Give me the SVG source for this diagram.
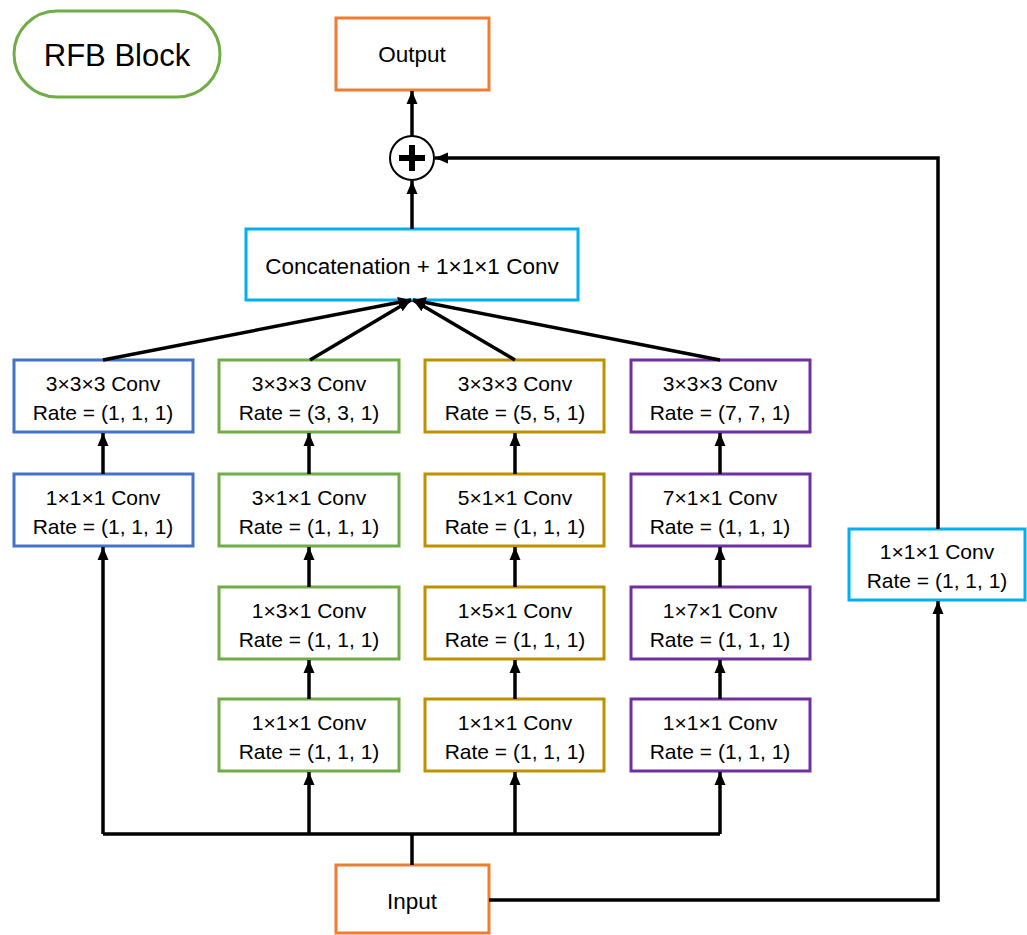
<svg xmlns="http://www.w3.org/2000/svg" width="1027" height="935" viewBox="0 0 1027 935">
<defs>
<marker id="ah" markerUnits="userSpaceOnUse" markerWidth="14" markerHeight="14" viewBox="0 0 14 14" refX="13" refY="7" orient="auto">
<path d="M0,1.5 L13,7 L0,12.5 Z" fill="#000"/>
</marker>
<style>
.box{fill:#fff;stroke-width:3}
.blue{stroke:#4472C4}.green{stroke:#70AD47}.gold{stroke:#BF9000}.purple{stroke:#7030A0}.orange{stroke:#ED7D31}.cyan{stroke:#00B0F0}
text{font-family:"Liberation Sans",Arial,sans-serif;font-size:21px;fill:#000;text-anchor:middle}
.big{font-size:22.5px}
.ln{fill:none;stroke:#000;stroke-width:3.5}
.arr{fill:none;stroke:#000;stroke-width:3.5;marker-end:url(#ah)}
</style>
</defs>
<rect width="1027" height="935" fill="#fff"/>
<g id="title"><rect x="14" y="11" width="206" height="86" rx="43" fill="#fff" stroke="#70AD47" stroke-width="3"/><text x="117" y="66" style="font-size:31px">RFB Block</text></g>
<g id="output"><rect class="box orange" x="336" y="18" width="153" height="72"/><text class="big" x="412" y="62">Output</text></g>
<g id="sum"><circle cx="412" cy="158" r="22" fill="#fff" stroke="#000" stroke-width="2"/><path d="M399,158 H425 M412,145 V171" stroke="#000" stroke-width="6"/></g>
<g id="concat"><rect class="box cyan" x="246" y="229" width="332" height="71"/><text class="big" x="412" y="274">Concatenation + 1×1×1 Conv</text></g>
<g id="b1a"><rect class="box blue" x="14" y="360" width="179" height="72"/><text x="103" y="391">3×3×3 Conv</text><text x="103" y="420">Rate = (1, 1, 1)</text></g>
<g id="b1b"><rect class="box blue" x="14" y="474" width="179" height="72"/><text x="103" y="505">1×1×1 Conv</text><text x="103" y="534">Rate = (1, 1, 1)</text></g>
<g id="b2a"><rect class="box green" x="219" y="360" width="180" height="72"/><text x="309" y="391">3×3×3 Conv</text><text x="309" y="420">Rate = (3, 3, 1)</text></g>
<g id="b2b"><rect class="box green" x="219" y="474" width="180" height="72"/><text x="309" y="505">3×1×1 Conv</text><text x="309" y="534">Rate = (1, 1, 1)</text></g>
<g id="b2c"><rect class="box green" x="219" y="587" width="180" height="72"/><text x="309" y="618">1×3×1 Conv</text><text x="309" y="647">Rate = (1, 1, 1)</text></g>
<g id="b2d"><rect class="box green" x="219" y="699" width="180" height="72"/><text x="309" y="730">1×1×1 Conv</text><text x="309" y="759">Rate = (1, 1, 1)</text></g>
<g id="b3a"><rect class="box gold" x="425" y="360" width="179" height="72"/><text x="515" y="391">3×3×3 Conv</text><text x="515" y="420">Rate = (5, 5, 1)</text></g>
<g id="b3b"><rect class="box gold" x="425" y="474" width="179" height="72"/><text x="515" y="505">5×1×1 Conv</text><text x="515" y="534">Rate = (1, 1, 1)</text></g>
<g id="b3c"><rect class="box gold" x="425" y="587" width="179" height="72"/><text x="515" y="618">1×5×1 Conv</text><text x="515" y="647">Rate = (1, 1, 1)</text></g>
<g id="b3d"><rect class="box gold" x="425" y="699" width="179" height="72"/><text x="515" y="730">1×1×1 Conv</text><text x="515" y="759">Rate = (1, 1, 1)</text></g>
<g id="b4a"><rect class="box purple" x="631" y="360" width="179" height="72"/><text x="720" y="391">3×3×3 Conv</text><text x="720" y="420">Rate = (7, 7, 1)</text></g>
<g id="b4b"><rect class="box purple" x="631" y="474" width="179" height="72"/><text x="720" y="505">7×1×1 Conv</text><text x="720" y="534">Rate = (1, 1, 1)</text></g>
<g id="b4c"><rect class="box purple" x="631" y="587" width="179" height="72"/><text x="720" y="618">1×7×1 Conv</text><text x="720" y="647">Rate = (1, 1, 1)</text></g>
<g id="b4d"><rect class="box purple" x="631" y="699" width="179" height="72"/><text x="720" y="730">1×1×1 Conv</text><text x="720" y="759">Rate = (1, 1, 1)</text></g>
<g id="shortcut"><rect class="box cyan" x="849" y="529" width="176" height="71"/><text x="937" y="559">1×1×1 Conv</text><text x="937" y="588">Rate = (1, 1, 1)</text></g>
<g id="input"><rect class="box orange" x="336" y="865" width="153" height="68"/><text class="big" x="412" y="909">Input</text></g>
<g id="connectors">
<path class="arr" d="M412,136 V91"/>
<path class="arr" d="M412,229 V181"/>
<path class="arr" d="M938,529 V158 H435"/>
<path class="arr" d="M103,360 L411,300"/>
<path class="arr" d="M310,360 L411,300"/>
<path class="arr" d="M515,360 L413,300"/>
<path class="arr" d="M720,360 L413,300"/>
<path class="arr" d="M103,474 V433"/>
<path class="arr" d="M309,474 V433"/>
<path class="arr" d="M309,587 V547"/>
<path class="arr" d="M309,699 V660"/>
<path class="arr" d="M515,474 V433"/>
<path class="arr" d="M515,587 V547"/>
<path class="arr" d="M515,699 V660"/>
<path class="arr" d="M720,474 V433"/>
<path class="arr" d="M720,587 V547"/>
<path class="arr" d="M720,699 V660"/>
<path class="ln" d="M103,834 H720 M412,834 V865"/>
<path class="arr" d="M103,834 V547"/>
<path class="arr" d="M309,834 V772"/>
<path class="arr" d="M515,834 V772"/>
<path class="arr" d="M720,834 V772"/>
<path class="arr" d="M489,900 H938 V601"/>
</g>
</svg>
